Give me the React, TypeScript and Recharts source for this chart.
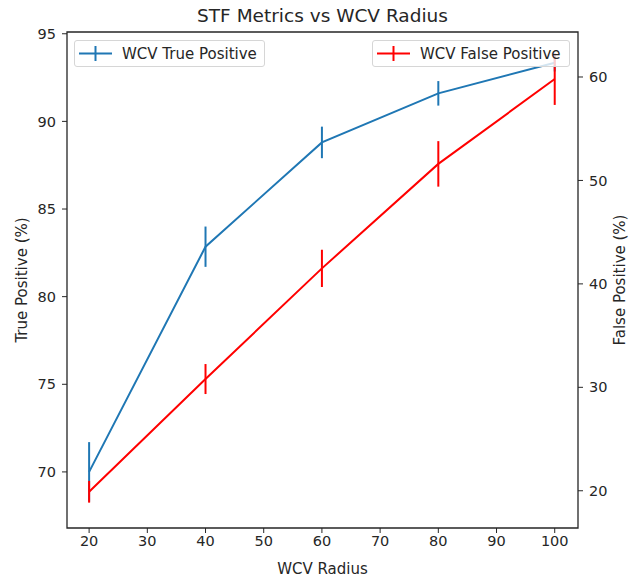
import React from 'react';
import {
  LineChart,
  Line,
  XAxis,
  YAxis,
  ErrorBar,
  ReferenceArea,
} from 'recharts';

// WCV radius values on the x axis
const radius = [20, 40, 60, 80, 100];

// True positive rate (%) and its spread, left axis
const truePositive = [70.0, 82.85, 88.8, 91.6, 93.35];
const truePositiveErr = [1.7, 1.15, 0.9, 0.7, 0.5];

// False positive rate (%) and its spread, right axis
const falsePositive = [19.9, 30.8, 41.5, 51.6, 59.8];
const falsePositiveErr = [1.05, 1.45, 1.8, 2.2, 2.5];

const xTicks = [20, 30, 40, 50, 60, 70, 80, 90, 100];
const leftTicks = [70, 75, 80, 85, 90, 95];
const rightTicks = [20, 30, 40, 50, 60];

const X_DOMAIN: [number, number] = [16.2, 104];
const LEFT_DOMAIN: [number, number] = [66.8, 95.1];
const RIGHT_DOMAIN: [number, number] = [16.4, 64.35];

const BLUE = '#1f77b4';
const RED = '#ff0000';
const INK = '#262626';
const FONT = "'DejaVu Sans', sans-serif";

const data = radius.map((r, i) => ({
  radius: r,
  tp: truePositive[i],
  tpErr: truePositiveErr[i],
  fp: falsePositive[i],
  fpErr: falsePositiveErr[i],
}));

const tickStyle = { fill: INK, fontSize: 14.5, fontFamily: FONT };
const labelStyle = { fill: INK, fontSize: 15, fontFamily: FONT };

function LegendBox({ left, width, color, label }: { left: number; width: number; color: string; label: string }) {
  return (
    <div
      style={{
        position: 'absolute',
        left,
        top: 40,
        width,
        height: 27,
        boxSizing: 'border-box',
        background: 'rgba(255,255,255,0.8)',
        border: '1px solid #d6d6d6',
        borderRadius: 3,
        display: 'flex',
        alignItems: 'center',
        fontFamily: FONT,
        fontSize: 15,
        color: INK,
        whiteSpace: 'nowrap',
      }}
    >
      <svg width={47} height={25} style={{ flex: 'none' }}>
        <line x1={4} y1={12.5} x2={37} y2={12.5} stroke={color} strokeWidth={2} />
        <line x1={20.5} y1={5} x2={20.5} y2={20} stroke={color} strokeWidth={2} />
      </svg>
      <span>{label}</span>
    </div>
  );
}

export default function App() {
  return (
    <div style={{ position: 'relative', width: 638, height: 577, background: '#fff' }}>
      <style>{'body{margin:0}'}</style>
      <div
        style={{
          position: 'absolute',
          left: 67,
          width: 511,
          top: 5,
          textAlign: 'center',
          fontFamily: FONT,
          fontSize: 18.5,
          color: INK,
          lineHeight: '22px',
        }}
      >
        STF Metrics vs WCV Radius
      </div>
      <LineChart width={638} height={577} data={data} margin={{ top: 32, right: 0, bottom: 0, left: 0 }}>
        <XAxis
          dataKey="radius"
          type="number"
          domain={X_DOMAIN}
          ticks={xTicks}
          allowDataOverflow
          height={49}
          axisLine={false}
          tickSize={5}
          tickMargin={3}
          tickLine={{ stroke: INK }}
          tick={tickStyle}
          label={{ value: 'WCV Radius', position: 'insideBottom', offset: 3, style: labelStyle }}
        />
        <YAxis
          yAxisId="left"
          type="number"
          domain={LEFT_DOMAIN}
          ticks={leftTicks}
          allowDataOverflow
          width={67}
          axisLine={false}
          tickSize={5}
          tickMargin={6}
          tickLine={{ stroke: INK }}
          tick={tickStyle}
          label={{
            value: 'True Positive (%)',
            angle: -90,
            position: 'insideLeft',
            offset: 22,
            style: { ...labelStyle, textAnchor: 'middle' },
          }}
        />
        <YAxis
          yAxisId="right"
          orientation="right"
          type="number"
          domain={RIGHT_DOMAIN}
          ticks={rightTicks}
          allowDataOverflow
          width={60}
          axisLine={false}
          tickSize={5}
          tickMargin={6}
          tickLine={{ stroke: INK }}
          tick={tickStyle}
          label={{
            value: 'False Positive (%)',
            angle: -90,
            position: 'insideRight',
            offset: 18,
            style: { ...labelStyle, textAnchor: 'middle' },
          }}
        />
        <ReferenceArea
          yAxisId="left"
          x1={X_DOMAIN[0]}
          x2={X_DOMAIN[1]}
          y1={LEFT_DOMAIN[0]}
          y2={LEFT_DOMAIN[1]}
          fill="none"
          stroke={INK}
          strokeWidth={1.3}
          ifOverflow="visible"
        />
        <Line
          yAxisId="left"
          dataKey="tp"
          name="WCV True Positive"
          stroke={BLUE}
          strokeWidth={2}
          dot={false}
          isAnimationActive={false}
        >
          <ErrorBar dataKey="tpErr" direction="y" width={0} stroke={BLUE} strokeWidth={2} isAnimationActive={false} />
        </Line>
        <Line
          yAxisId="right"
          dataKey="fp"
          name="WCV False Positive"
          stroke={RED}
          strokeWidth={2}
          dot={false}
          isAnimationActive={false}
        >
          <ErrorBar dataKey="fpErr" direction="y" width={0} stroke={RED} strokeWidth={2} isAnimationActive={false} />
        </Line>
      </LineChart>
      <LegendBox left={74} width={191} color={BLUE} label="WCV True Positive" />
      <LegendBox left={372} width={198} color={RED} label="WCV False Positive" />
    </div>
  );
}
